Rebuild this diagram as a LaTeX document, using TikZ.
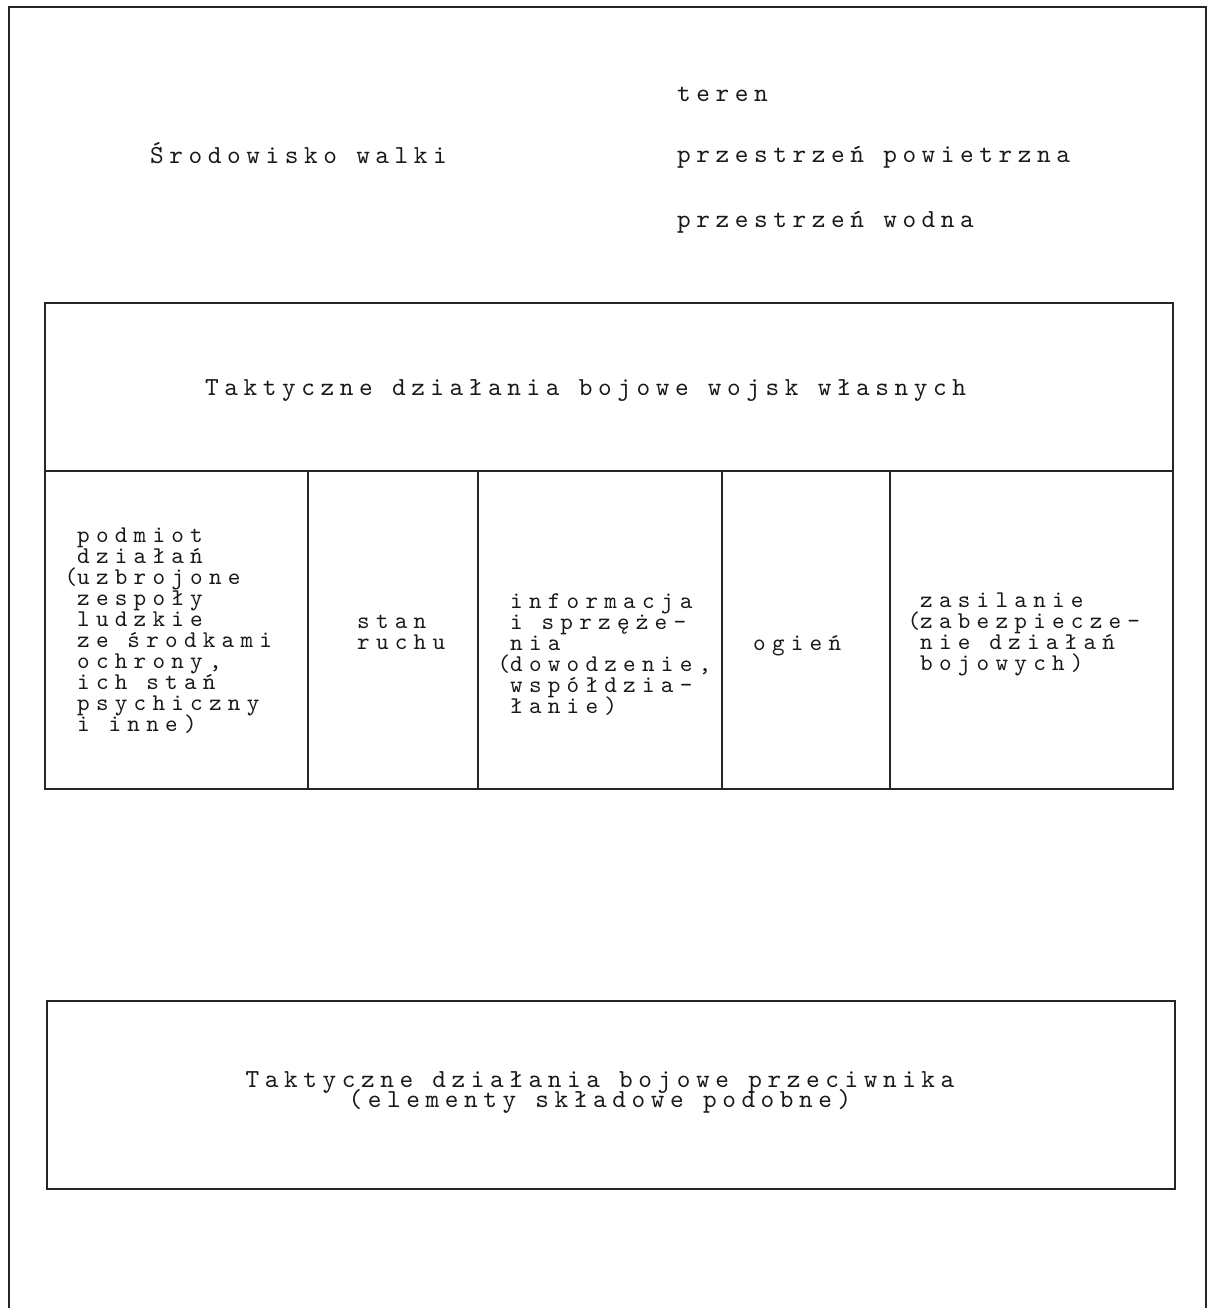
\documentclass[tikz,border=0pt]{standalone}
\usepackage{fontspec}
\newfontfamily\dotfont{lmmono10-regular.otf}[LetterSpace=21.5]
\newfontfamily\cellfont{lmmono10-regular.otf}[LetterSpace=26]
\newcommand\celltext[2]{\parbox[t]{#1}{\lineskiplimit=-100pt\relax\raggedright #2}}
\newcommand\centtext[2]{\parbox[t]{#1}{\lineskiplimit=-100pt\relax\centering #2}}
\newcommand\hangparen{\leavevmode\llap{(}}
\tikzset{
  frame/.style={line width=1.5pt, draw=black!85},
  rule/.style={line width=1.3pt, draw=black!85},
  txt/.style={inner sep=0pt, text=black!90, font=\dotfont\fontsize{26}{21}\selectfont},
  celltxt/.style={inner sep=0pt, text=black!90, font=\cellfont\fontsize{24}{21}\selectfont},
}
\begin{document}
\begin{tikzpicture}[x=1pt,y=-1pt]
\useasboundingbox (0,0) rectangle (1209,1308);
\fill[white] (0,0) rectangle (1209,1308);
% outer frame (open at bottom)
\draw[frame] (9,1308) -- (9,7) -- (1206,7) -- (1206,1308);
% header texts
\node[txt,anchor=base west] (srod) at (150,164) {Środowisko walki};
\node[txt,anchor=base west] (teren) at (677,102) {teren};
\node[txt,anchor=base west] (pow) at (677,163) {przestrzeń powietrzna};
\node[txt,anchor=base west] (wod) at (677,227) {przestrzeń wodna};
% own forces table
\draw[frame] (45,303) rectangle (1173,789);
\draw[rule] (45,471) -- (1173,471);
\draw[rule] (308,471) -- (308,789);
\draw[rule] (478,471) -- (478,789);
\draw[rule] (722,471) -- (722,789);
\draw[rule] (890,471) -- (890,789);
\node[txt,anchor=base west] (own) at (205,395) {Taktyczne działania bojowe wojsk własnych};
\node[celltxt,anchor=base west] (podmiot) at (77,542) {\celltext{300pt}{podmiot\\działań\\\hangparen uzbrojone\\zespoły\\ludzkie\\ze środkami\\ochrony,\\ich stań\\psychiczny\\i inne)}};
\node[celltxt,anchor=base west] (ruch) at (357,628) {\celltext{150pt}{stan\\ruchu}};
\node[celltxt,anchor=base west] (info) at (510,608) {\celltext{300pt}{informacja\\i sprzęże-\\nia\\\hangparen dowodzenie,\\współdzia-\\łanie)}};
\node[celltxt,anchor=base west] (ogien) at (753,650) {ogień};
\node[celltxt,anchor=base west] (zasil) at (920,607) {\celltext{300pt}{zasilanie\\\hangparen zabezpiecze-\\nie działań\\bojowych)}};
% enemy box
\draw[frame] (47,1001) rectangle (1175,1189);
\node[txt,anchor=base] (enemy) at (600,1087) {\centtext{1000pt}{\baselineskip=20pt Taktyczne działania bojowe przeciwnika\\(elementy składowe podobne)}};
\end{tikzpicture}
\end{document}
